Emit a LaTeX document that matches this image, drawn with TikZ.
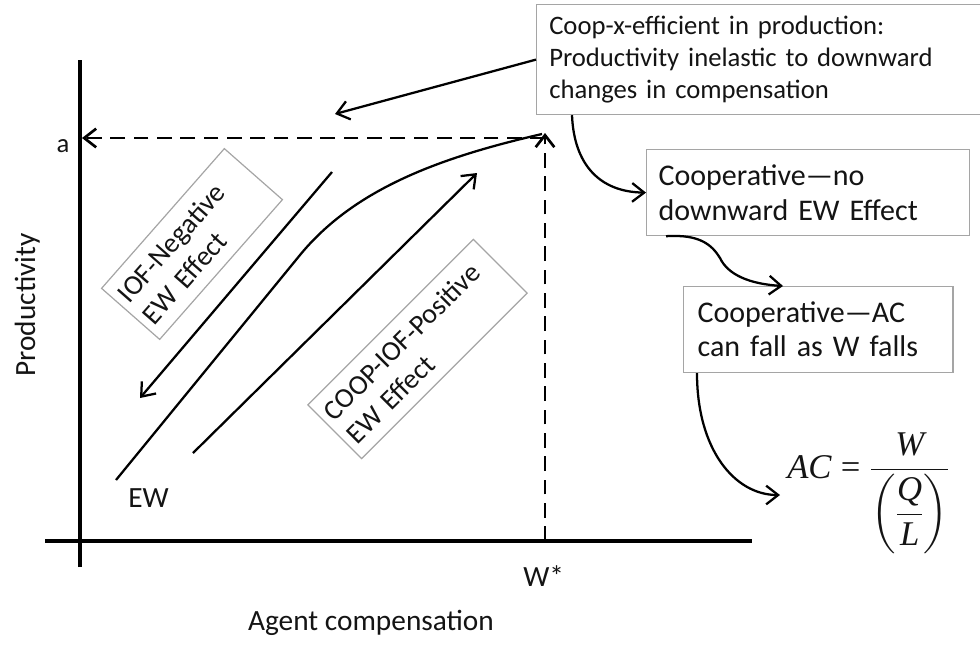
\documentclass[tikz,border=0pt]{standalone}
\usepackage{amsmath}
\usepackage{fontspec}
\setmainfont{Carlito}
\newfontfamily\tmsfont{Liberation Serif}
\usetikzlibrary{arrows.meta,calc}
\definecolor{boxgray}{RGB}{165,165,165}
\definecolor{ink}{RGB}{20,20,20}
\begin{document}
\begin{tikzpicture}[x=0.75pt,y=-0.75pt,
  every node/.style={text=ink, inner sep=0pt},
  axisline/.style={line width=2.3pt},
  dashln/.style={line width=2pt, dash pattern=on 11pt off 6.5pt},
  barb/.style={-{Straight Barb[length=9pt,width=14pt]}},
  arr/.style={line width=1.7pt, barb},
  curveln/.style={line width=1.7pt},
  infobox/.style={draw=boxgray, line width=0.9pt, fill=white, anchor=north west, align=left},
  tiltbox/.style={draw=boxgray, line width=0.9pt, fill=white, align=left, inner xsep=5pt, font=\fontsize{21}{24.75}\selectfont},
  lbl/.style={font=\fontsize{22}{26}\selectfont}
]
\useasboundingbox (0,0) rectangle (980,644);

% axes
\coordinate (yb) at (80,567);
\coordinate (yt) at (80,60);
\coordinate (xl) at (45,541);
\coordinate (xr) at (752,541);
\draw[axisline] (yb) -- (yt);
\draw[axisline] (xl) -- (xr);

% dashed guides
\coordinate (wb) at (545,541);
\coordinate (wt) at (545,133);
\coordinate (wc) at (545,138);
\coordinate (aa) at (82,138);
\draw[dashln, barb] (wb) -- (wt);
\draw[dashln, barb] (wc) -- (aa);

% EW curve
\coordinate (ew0) at (116,480);
\coordinate (ewm) at (300,255);
\coordinate (ew1) at (542,134);
\draw[curveln] (ew0) -- (ewm) .. controls (355,188) and (442,157) .. (ew1);

% direction arrows
\coordinate (la0) at (332,172);
\coordinate (la1) at (140,398);
\coordinate (ra0) at (193,453);
\coordinate (ra1) at (477,173);
\draw[arr] (la0) -- (la1);
\draw[arr] (ra0) -- (ra1);

% tilted boxes
\node[tiltbox, rotate=48.7, minimum width=139.5pt, minimum height=58pt, text width=129.5pt] (iof) at (192,244) {IOF-Negative\\EW Effect};
\node[tiltbox, rotate=45, minimum width=175.5pt, minimum height=57pt, text width=165.5pt] (coop) at (417.5,349) {COOP-IOF-Positive\\EW Effect};

% labels
\node[lbl, font=\fontsize{20}{24}\selectfont, anchor=base] (alab) at (63,152) {a};
\node[lbl, anchor=base west] (ewlab) at (128,507) {EW};
\node[lbl, anchor=base west] (wstar) at (523,586) {W*};
\node[lbl, anchor=base] (xlab) at (371,630) {Agent compensation};
\node[lbl, anchor=base, rotate=90] (ylab) at (35,305) {Productivity};

% info boxes
\node[infobox, minimum width=348pt, minimum height=82.5pt, inner xsep=9.5pt, text width=330pt, font=\fontsize{20}{24}\selectfont] (b1) at (536,4) {Coop-x-efficient in production:\\Productivity inelastic to downward\\changes in compensation};
\node[infobox, minimum width=242pt, minimum height=64.5pt, inner xsep=9pt, text width=224pt, font=\fontsize{22.5}{26}\selectfont] (b2) at (646,149) {Cooperative—no\\downward EW Effect};
\node[infobox, minimum width=202pt, minimum height=64.5pt, inner xsep=10.5pt, text width=181pt, font=\fontsize{22.5}{25.5}\selectfont] (b3) at (683,286) {Cooperative—AC\\can fall as W falls};

% formula
\node[anchor=base west, font=\fontsize{26}{30}\selectfont] (f) at (787,478)
  {$\mbox{\tmsfont\itshape AC}\mathrel{\mbox{\tmsfont =}}\dfrac{\mbox{\tmsfont\itshape W}}{\left(\dfrac{\mbox{\tmsfont\itshape Q}}{\mbox{\tmsfont\itshape L}}\right)}$};

% connectors
\coordinate (tl) at (335,114);
\coordinate (fe) at (780,495);
\draw[arr] (b1.west) -- (tl);
\draw[arr] ([xshift=27pt]b1.south west) .. controls (574,165) and (600,192) .. (b2.west);
\draw[arr] ([xshift=15pt]b2.south west) .. controls (700,234) and (712,245) .. (720,258) .. controls (728,275) and (750,284) .. ([xshift=75pt]b3.north west);
\draw[arr] ([xshift=10.5pt]b3.south west) .. controls (697,450) and (735,495) .. (fe);
\end{tikzpicture}
\end{document}
